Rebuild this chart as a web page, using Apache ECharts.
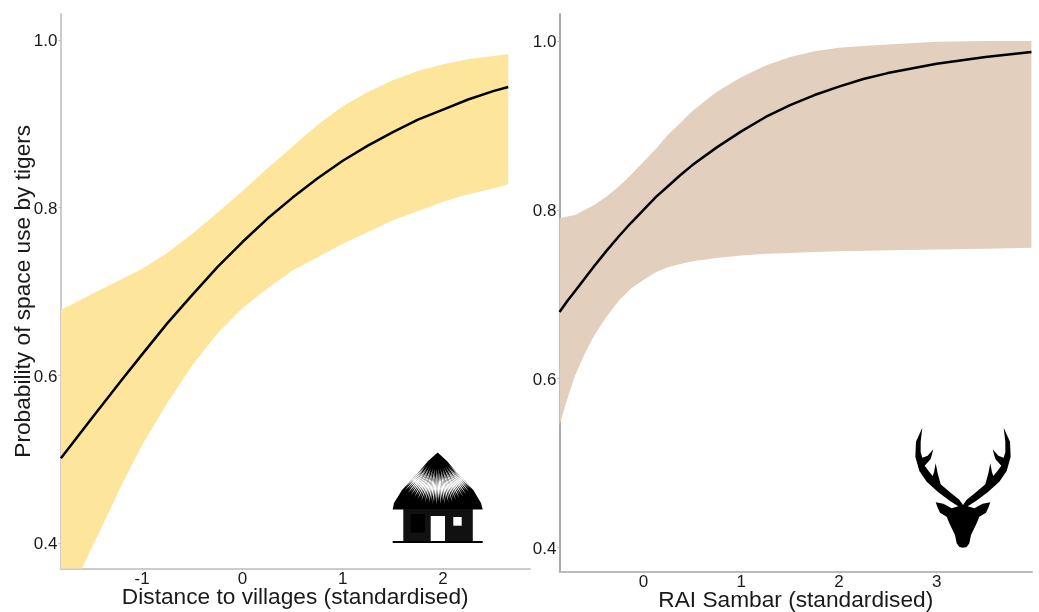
<!DOCTYPE html>
<html>
<head>
<meta charset="utf-8">
<title>Space use by tigers</title>
<script src="https://cdn.jsdelivr.net/npm/echarts@6/dist/echarts.min.js"></script>
<style>
  html, body { margin: 0; padding: 0; background: #fff; }
  #chart { width: 1039px; height: 612px; }
</style>
</head>
<body>
<div id="chart"></div>
<script>
// left panel: distance to villages
const villageX = [-1.81, -1.5, -1.2, -1, -0.75, -0.5, -0.25, 0, 0.25, 0.5, 0.75, 1, 1.25, 1.5, 1.75, 2, 2.25, 2.5, 2.65];
const villageMean = [0.501, 0.549, 0.595, 0.625, 0.662, 0.696, 0.729, 0.759, 0.787, 0.812, 0.835, 0.856, 0.874, 0.890, 0.905, 0.917, 0.929, 0.939, 0.944];
const villageUpper = [0.678, 0.697, 0.715, 0.727, 0.746, 0.769, 0.794, 0.820, 0.847, 0.873, 0.899, 0.921, 0.938, 0.952, 0.963, 0.971, 0.977, 0.981, 0.983];
const villageLower = [0.317, 0.395, 0.470, 0.517, 0.567, 0.612, 0.650, 0.680, 0.704, 0.725, 0.741, 0.757, 0.771, 0.785, 0.796, 0.807, 0.816, 0.823, 0.828];

// right panel: RAI sambar
const sambarX = [-0.86, -0.78, -0.7, -0.6, -0.5, -0.375, -0.25, -0.125, 0, 0.125, 0.25, 0.375, 0.5, 0.75, 1, 1.25, 1.5, 1.75, 2, 2.25, 2.5, 3, 3.5, 3.97];
const sambarMean = [0.679, 0.692, 0.704, 0.719, 0.734, 0.752, 0.769, 0.785, 0.800, 0.815, 0.828, 0.841, 0.853, 0.874, 0.893, 0.910, 0.924, 0.936, 0.946, 0.955, 0.962, 0.973, 0.981, 0.987];
const sambarUpper = [0.790, 0.792, 0.794, 0.800, 0.806, 0.816, 0.828, 0.842, 0.857, 0.872, 0.889, 0.903, 0.917, 0.940, 0.957, 0.971, 0.981, 0.988, 0.992, 0.994, 0.996, 0.999, 1.0, 1.0];
const sambarLower = [0.545, 0.576, 0.604, 0.630, 0.652, 0.674, 0.693, 0.707, 0.717, 0.726, 0.732, 0.736, 0.739, 0.743, 0.746, 0.748, 0.749, 0.750, 0.751, 0.7515, 0.752, 0.753, 0.754, 0.755];

const villageTicks = [-1, 0, 1, 2];
const sambarTicks = [0, 1, 2, 3];
const probTicks = [0.4, 0.6, 0.8, 1.0];

const FONT = '"Liberation Sans", Arial, sans-serif';
const TEXT = '#1a1a1a';

function pairs(xs, ys) {
  return xs.map((x, i) => [x, ys[i]]);
}

function xAxis(idx, name, ticks, min, max, axisColor) {
  return {
    type: 'value', gridIndex: idx, min: min, max: max,
    name: name, nameLocation: 'middle', nameGap: 18.5, nameMoveOverlap: false,
    nameTextStyle: { fontFamily: FONT, fontSize: 22.7, color: TEXT, lineHeight: 22 },
    splitLine: { show: false },
    axisLine: { onZero: false, lineStyle: { color: axisColor, width: 2 } },
    axisTick: { customValues: ticks, length: 2, lineStyle: { color: '#bbb' } },
    axisLabel: { customValues: ticks, fontFamily: FONT, fontSize: 17, color: TEXT, margin: 2 },
  };
}

function yAxis(idx, name, min, max, axisColor) {
  return {
    type: 'value', gridIndex: idx, min: min, max: max,
    name: name, nameLocation: 'middle', nameGap: 25, nameMoveOverlap: false,
    nameTextStyle: { fontFamily: FONT, fontSize: 22.7, color: TEXT },
    splitLine: { show: false },
    axisLine: { show: true, onZero: false, lineStyle: { color: axisColor, width: 2 } },
    axisTick: { show: true, customValues: probTicks, length: 2, lineStyle: { color: '#bbb' } },
    axisLabel: {
      customValues: probTicks, fontFamily: FONT, fontSize: 17, color: TEXT, margin: 3,
      verticalAlign: 'top', lineHeight: 3,
      formatter: function (val) { return val.toFixed(1); },
    },
  };
}

function panelSeries(idx, xs, mean, upper, lower, color) {
  return [
    {
      // confidence band, one polygon over the whole range
      type: 'custom', coordinateSystem: 'cartesian2d', xAxisIndex: idx, yAxisIndex: idx,
      data: xs.map((x, i) => [x, lower[i], upper[i]]),
      encode: { x: 0, y: [1, 2] },
      clip: true,
      silent: true,
      renderItem: function (params, api) {
        if (params.dataIndex !== 0) return null;
        const top = xs.map((x, i) => api.coord([x, upper[i]]));
        const bottom = xs.map((x, i) => api.coord([x, lower[i]])).reverse();
        return {
          type: 'polygon',
          shape: { points: top.concat(bottom) },
          style: { fill: color },
        };
      },
    },
    {
      type: 'line', xAxisIndex: idx, yAxisIndex: idx, data: pairs(xs, mean),
      symbol: 'none', lineStyle: { color: '#000', width: 2.5, join: 'round' }, z: 5,
    },
  ];
}

// hut icon, thatch is a fan of thin white slivers from the roof apex
function hutIcon() {
  const els = [];
  els.push({
    type: 'polygon', silent: true, z: 10,
    shape: { points: [[437.7, 452.5], [428, 461], [418, 473], [402, 490], [394, 503], [392.7, 509.5], [482.7, 509.5], [481, 503], [473.3, 490], [457, 473], [447, 461]] },
    style: { fill: '#000' },
  });
  const count = 40;
  for (let i = 0; i < count; i++) {
    const t = i / (count - 1) * 2 - 1; // -1..1 across the roof
    const ang = t * 0.74;
    const len = 50 - Math.abs(t) * 2 + (i % 2) * 3;
    const r1 = 16 + (i % 3) * 4;
    const rm = 36;
    const w = 0.8;
    const dx = Math.sin(ang), dy = Math.cos(ang);
    const ax = 437.7, ay = 452.5;
    els.push({
      type: 'polygon', silent: true, z: 11,
      shape: { points: [
        [ax + dx * r1, ay + dy * r1],
        [ax + dx * rm + dy * w, ay + dy * rm - dx * w],
        [ax + dx * len, ay + dy * len * 0.98],
        [ax + dx * rm - dy * w, ay + dy * rm + dx * w],
      ] },
      style: { fill: '#fff' },
    });
  }
  els.push(
    { type: 'rect', silent: true, z: 12, shape: { x: 403.3, y: 509, width: 69.5, height: 32 }, style: { fill: '#111' } },
    { type: 'rect', silent: true, z: 12, shape: { x: 392.7, y: 541, width: 90, height: 2 }, style: { fill: '#000' } },
    { type: 'rect', silent: true, z: 13, shape: { x: 410.7, y: 514, width: 14.3, height: 18.7 }, style: { fill: '#000' } },
    { type: 'rect', silent: true, z: 13, shape: { x: 430.7, y: 516, width: 14.3, height: 25 }, style: { fill: '#fff' } },
    { type: 'rect', silent: true, z: 13, shape: { x: 453.3, y: 517, width: 8.4, height: 8.7 }, style: { fill: '#fff' } }
  );
  return els;
}

// deer head outline, left half in icon units, mirrored for the right half
const deerHalf = [
  [219, 398], [208, 396], [200, 385], [195, 360], [178, 325], [170, 305], [150, 293], [143, 278], [137, 262], [160, 266], [185, 280], [205, 274],
  [180, 258], [145, 232], [110, 200], [88, 168], [76, 125], [78, 80], [97, 38],
  [92, 80], [92, 112], [97, 128], [113, 122], [130, 103], [122, 132], [104, 152], [114, 166], [128, 183],
  [132, 172], [137, 145], [143, 175], [152, 208], [180, 232], [208, 254], [219, 270],
];

function deerIcon() {
  const right = deerHalf.slice(1, -1).reverse().map(p => [438 - p[0], p[1]]);
  return {
    type: 'polygon', silent: true, z: 10, x: 890, y: 415, scaleX: 1 / 3, scaleY: 1 / 3,
    shape: { points: deerHalf.concat(right) },
    style: { fill: '#000' },
  };
}

const chart = echarts.init(document.getElementById('chart'), null, { renderer: 'canvas' });

chart.setOption({
  animation: false,
  backgroundColor: '#fff',
  grid: [
    { left: 60.5, top: 14, width: 469.5, height: 554.5, outerBoundsMode: 'none' },
    { left: 559.5, top: 14, width: 472.5, height: 557.5, outerBoundsMode: 'none' },
  ],
  xAxis: [
    xAxis(0, 'Distance to villages (standardised)', villageTicks, -1.814, 2.867, '#cccccc'),
    xAxis(1, 'RAI Sambar (standardised)', sambarTicks, -0.86, 3.976, '#bbbbbb'),
  ],
  yAxis: [
    yAxis(0, 'Probability of space use by tigers', 0.3696, 1.031, '#cccccc'),
    yAxis(1, '', 0.3716, 1.032, '#aaaaaa'),
  ],
  series: [
    ...panelSeries(0, villageX, villageMean, villageUpper, villageLower, '#FDE59B'),
    ...panelSeries(1, sambarX, sambarMean, sambarUpper, sambarLower, '#E2CFBE'),
  ],
  graphic: { elements: [...hutIcon(), deerIcon()] },
});
</script>
</body>
</html>
